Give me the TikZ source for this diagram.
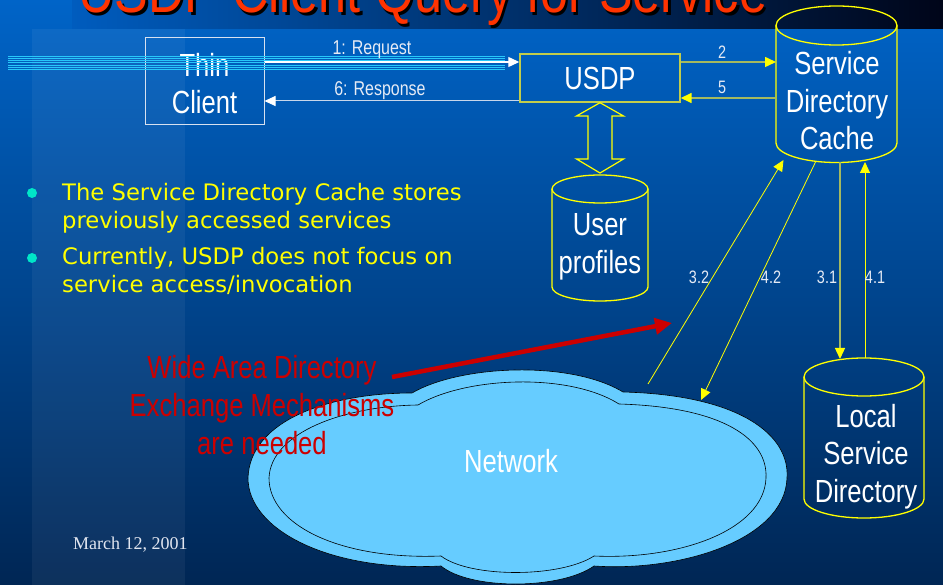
\documentclass[tikz,border=0pt]{standalone}
\usepackage{fontspec}
\setmainfont{Liberation Sans}
\newfontfamily\narrowfont[FakeStretch=0.8]{Liberation Sans}
\newfontfamily\bulletfont{DejaVu Sans}
\newfontfamily\datefont{Liberation Serif}
\usetikzlibrary{arrows.meta,calc}
\definecolor{bgtop}{RGB}{0,100,200}
\definecolor{bgbot}{RGB}{0,38,84}
\definecolor{bandl}{RGB}{0,92,190}
\definecolor{bandm}{RGB}{0,62,140}
\definecolor{bandr}{RGB}{0,5,25}
\definecolor{titlered}{RGB}{255,51,0}
\definecolor{textred}{RGB}{204,0,0}
\definecolor{cylyellow}{RGB}{255,255,0}
\definecolor{olivebox}{RGB}{195,205,75}
\definecolor{oliveline}{RGB}{165,185,95}
\definecolor{stripe}{RGB}{40,200,250}
\definecolor{boxwhite}{RGB}{215,225,240}
\definecolor{labelgray}{RGB}{230,235,245}
\definecolor{bulletdot}{RGB}{0,230,200}
\definecolor{cloudblue}{RGB}{102,204,255}
\definecolor{dategray}{RGB}{225,230,240}
\definecolor{respline}{RGB}{200,215,235}
\tikzset{
  bigtext/.style={text=white, font=\narrowfont\fontsize{32}{37.5}\selectfont, align=center, inner sep=0pt},
  smalllabel/.style={text=labelgray, font=\narrowfont\fontsize{18}{20}\selectfont, inner sep=0pt, anchor=base},
  cylline/.style={draw=cylyellow, line width=1.3pt},
  whitetip/.style={-{Triangle[length=11pt,width=10pt,color=white]}},
  yellowtip/.style={-{Triangle[length=11pt,width=10pt,color=cylyellow]}},
  yline/.style={draw=cylyellow, line width=0.8pt},
  oline/.style={draw=oliveline, line width=1.5pt},
  bullettext/.style={text=cylyellow, font=\bulletfont\fontsize{22.7}{28}\selectfont, align=left, inner sep=0pt, anchor=base west},
  redtext/.style={text=textred, font=\narrowfont\fontsize{32}{38}\selectfont, align=center, inner sep=0pt},
}
\newcommand\cylshape[5]{%
  \pgfmathsetmacro\cylL{#1-#4}%
  \pgfmathsetmacro\cylR{#1+#4}%
  \pgfmathsetmacro\cylB{#3+#5}%
  \pgfmathsetmacro\cylK{#3+0.5523*#5}%
  \pgfmathsetmacro\cylKl{#1-0.5523*#4}%
  \pgfmathsetmacro\cylKr{#1+0.5523*#4}%
  \draw[cylline] (#1,#2) ellipse[x radius=#4pt, y radius=#5pt];
  \draw[cylline] (\cylL,#2) -- (\cylL,#3) .. controls (\cylL,\cylK) and (\cylKl,\cylB) .. (#1,\cylB)
     .. controls (\cylKr,\cylB) and (\cylR,\cylK) .. (\cylR,#3) -- (\cylR,#2);
}
\newcommand\lowerline[1]{\raisebox{-2.5pt}[23pt][0pt]{#1}}
\begin{document}
\begin{tikzpicture}[x=1pt,y=-1pt]
\useasboundingbox (0,0) rectangle (943,585);
\clip (0,0) rectangle (943,585);
% background
\shade[top color=bgtop, bottom color=bgbot] (0,0) rectangle (943,585);
\fill[white, opacity=0.05] (32,29) rectangle (185,585);
\shade[left color=bandl, middle color=bandm, right color=bandr] (72,0) rectangle (943,29);
% title
\node[anchor=base west, inner sep=0pt, text=black, font=\narrowfont\fontsize{63}{70}\selectfont] at (80.5,15.5) {USDP Client Query for Service};
\node[anchor=base west, inner sep=0pt, text=titlered, font=\narrowfont\fontsize{63}{70}\selectfont] (title) at (78,13) {USDP Client Query for Service};

% network cloud
\path[fill=cloudblue, draw=black, line width=0.6pt]
  (412,393) .. controls (460,365) and (570,360) .. (623,392)
  .. controls (740,395) and (790,435) .. (787,478)
  .. controls (785,540) and (680,572) .. (594,566)
  .. controls (560,590) and (470,590) .. (441,566)
  .. controls (330,572) and (248,530) .. (248,478)
  .. controls (250,420) and (330,393) .. (412,393) -- cycle;
\draw[black, line width=0.6pt]
  (418,405) .. controls (465,377) and (568,372) .. (619,404)
  .. controls (725,407) and (768,440) .. (766,478)
  .. controls (764,530) and (680,560) .. (594,556)
  .. controls (560,578) and (470,578) .. (441,556)
  .. controls (340,560) and (269,525) .. (269,478)
  .. controls (271,432) and (345,406) .. (418,405) -- cycle;
\node[bigtext, anchor=base] (net) at (511,472) {Network};
\coordinate (netA) at (648,384);
\coordinate (netB) at (701,400);

% cylinders
\cylshape{836.5}{25.5}{143}{60.5}{19.5}
\node[bigtext] (sdc) at (837,101) {Service\\Directory\\Cache};
\cylshape{600}{189}{287}{48}{14}
\node[bigtext, font=\narrowfont\fontsize{32}{37.5}\selectfont] (up) at (600,247) {User\\profiles};
\cylshape{864}{377}{499}{60}{19}
\node[bigtext] (lsd) at (866,456.5) {Local\\Service\\Directory};

% boxes
\node[bigtext, font=\narrowfont\fontsize{32}{37}\selectfont, draw=boxwhite, line width=1pt, minimum width=119pt, minimum height=87pt] (tc) at (204.5,81.5) {\lowerline{Thin}\\\lowerline{Client}};
\node[bigtext, draw=olivebox, line width=1.4pt, minimum width=160pt, minimum height=48pt] (usdp) at (600,78) {USDP};

% request stripes
\foreach \yy in {56,58.27,...,70} {
  \draw[stripe, line width=0.7pt] (8,\yy) -- (505,\yy);
}
\draw[white, line width=1.2pt, whitetip] ($(tc.east)+(0,-19.5)$) -- ($(usdp.west)+(0,-16)$);
\draw[respline, line width=1pt, whitetip] ($(usdp.west)+(0,23)$) -- ($(tc.east)+(0,19.5)$);
\node[smalllabel, font=\narrowfont\fontsize{20}{22}\selectfont] (lreq) at (372,55) {1: Request};
\node[smalllabel, font=\narrowfont\fontsize{20}{22}\selectfont] (lresp) at (380,96) {6: Response};

% USDP <-> cache
\draw[oline, yellowtip] ($(usdp.east)+(0,-16)$) -- ($(sdc.center)+(-61,-39)$);
\draw[oline, yellowtip] ($(sdc.center)+(-61,-3)$) -- ($(usdp.east)+(0,20)$);
\node[smalllabel] (l2) at (722,59) {2};
\node[smalllabel] (l5) at (722,94) {5};

% hollow double arrow USDP <-> User profiles
\draw[cylline, line width=1.2pt] (usdp.south) -- (623.5,116) -- (612,116) -- (612,159) -- (623.5,159) -- (up.north |- 0,173)
  -- (576.5,159) -- (588,159) -- (588,116) -- (576.5,116) -- cycle;

% cache <-> network / local directory
\draw[yline, yellowtip] (netA) -- ($(sdc.center)+(-53.5,59)$);
\draw[yline, yellowtip] ($(sdc.center)+(-21,60)$) -- (netB);
\draw[oline, line width=1.3pt, yellowtip] ($(sdc.center)+(3,61)$) -- ($(lsd.center)+(-26,-97.5)$);
\draw[yline, line width=1pt, yellowtip] ($(lsd.center)+(-1,-98.5)$) -- ($(sdc.center)+(28,61)$);
\node[smalllabel] (l32) at (699,284) {3.2};
\node[smalllabel] (l42) at (771,284) {4.2};
\node[smalllabel] (l31) at (827,284) {3.1};
\node[smalllabel] (l41) at (875,284) {4.1};

% bullets
\fill[bulletdot] (32,193) circle[radius=5pt];
\fill[bulletdot] (32,258) circle[radius=5pt];
\node[bullettext] (b1) at (62,229) {The Service Directory Cache stores\\previously accessed services};
\node[bullettext] (b2) at (62,293) {Currently, USDP does not focus on\\service access/invocation};

% red annotation
\node[redtext] (wad) at (262,405) {Wide Area Directory\\Exchange Mechanisms\\are needed};
\coordinate (redtip) at (672,323);
\draw[textred, line width=4.5pt, -{Triangle[length=17pt,width=16pt]}] ($(wad.center)+(130,-28)$) -- (redtip);

% date
\node[anchor=base west, inner sep=0pt, text=dategray, font=\datefont\fontsize{18}{20}\selectfont] (date) at (73,549) {March 12, 2001};
\end{tikzpicture}
\end{document}
